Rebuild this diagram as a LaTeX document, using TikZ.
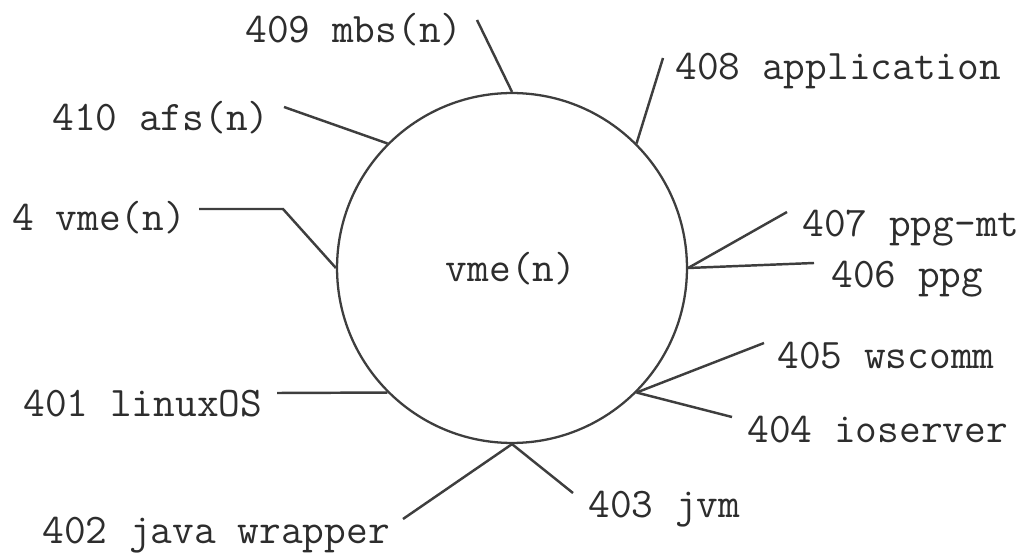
\documentclass[tikz,border=0pt]{standalone}
\usepackage{xcolor}
\usepackage{tikz}
\usetikzlibrary{positioning}
\definecolor{InkGray}{RGB}{62,62,62}
\definecolor{TextGray}{RGB}{45,45,45}

\begin{document}
\begin{tikzpicture}[
  x=0.02cm, y=-0.02cm,
  font=\ttfamily\fontsize{24}{28}\selectfont,
  core/.style={draw=InkGray, circle, line width=1.3pt, minimum size=7cm, inner sep=0pt, text=TextGray},
  tag/.style={anchor=base west, inner sep=0pt, text=TextGray},
  lead/.style={draw=InkGray, line width=1.4pt}
]
\useasboundingbox (0,0) rectangle (1026,553);

% central module
\node[core] (vme) at (512,268) {};
\node[anchor=base, inner sep=0pt, text=TextGray] (vmetxt) at (511,282) {vme(n)};

% labels
\node[tag] (mbs)  at (245,43)  {409 mbs(n)};
\node[tag] (afs)  at (52,131)  {410 afs(n)};
\node[tag] (vmen) at (12,231)  {4 vme(n)};
\node[tag] (app)  at (675,80)  {408 application};
\node[tag] (ppgmt) at (802,237) {407 ppg-mt};
\node[tag] (ppg)  at (831,288) {406 ppg};
\node[tag] (wsc)  at (777,368) {405 wscomm};
\node[tag] (ios)  at (747,442) {404 ioserver};
\node[tag] (jvm)  at (588,517) {403 jvm};
\node[tag] (jwr)  at (42,543)  {402 java wrapper};
\node[tag] (los)  at (23,416)  {401 linuxOS};

% free ends of the leads
\coordinate (mbsend) at (477,20);
\coordinate (afsend) at (284,107);
\coordinate (vmenend) at (199,209);
\coordinate (vmenbend) at (283,209);
\coordinate (append) at (663,58);
\coordinate (ppgmtend) at (787,212);
\coordinate (ppgend) at (814,263);
\coordinate (wscend) at (764,343);
\coordinate (iosend) at (732,417);
\coordinate (jvmend) at (573,493);
\coordinate (jwrend) at (403,519);
\coordinate (losend) at (277,393);

% leads
\draw[lead] (vme.90) -- (mbsend);
\draw[lead] (vme.135) -- (afsend);
\draw[lead] (vme.180) -- (vmenbend) -- (vmenend);
\draw[lead] (vme.45) -- (append);
\draw[lead] (vme.0) -- (ppgmtend);
\draw[lead] (vme.0) -- (ppgend);
\draw[lead] (vme.-45) -- (wscend);
\draw[lead] (vme.-45) -- (iosend);
\draw[lead] (vme.-90) -- (jvmend);
\draw[lead] (vme.-90) -- (jwrend);
\draw[lead] (vme.-135) -- (losend);
\end{tikzpicture}
\end{document}
